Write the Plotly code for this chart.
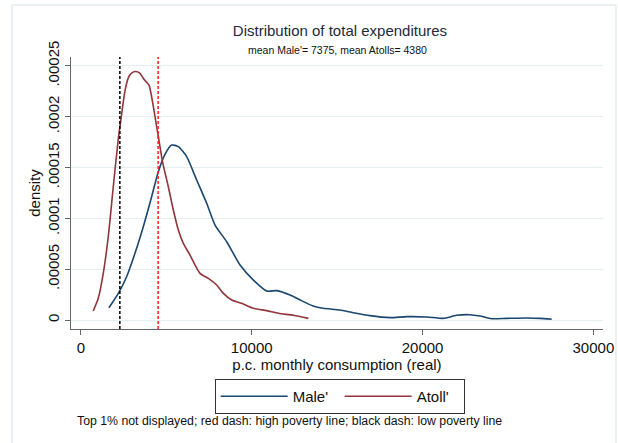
import plotly.graph_objects as go

# ---- data ----
male_x = [1640, 2190, 2676, 3164, 3652, 4141, 4531, 4922, 5312, 5703, 6191, 6777, 7363, 7852,
          8535, 9316, 10098, 10879, 11465, 12246, 12832, 13594, 14180, 15156, 15938, 16914,
          18086, 19063, 20234, 21211, 21992, 22773, 23359, 24043, 24922, 26094, 26875, 27559]
male_y = [1.21, 2.62, 4.26, 6.56, 9.18, 12.13, 14.59, 16.30, 17.21, 17.05, 16.07, 13.77, 11.48,
          9.34, 7.70, 5.41, 3.93, 2.85, 2.89, 2.46, 1.97, 1.38, 1.15, 0.98, 0.72, 0.43, 0.23,
          0.33, 0.30, 0.16, 0.46, 0.52, 0.39, 0.13, 0.16, 0.20, 0.16, 0.07]  # x 1e-5

atoll_x = [723, 1016, 1309, 1602, 1895, 2183, 2378, 2573, 2768, 2963, 3197, 3450, 3645, 3840,
           3996, 4191, 4386, 4580, 4775, 5117, 5410, 5703, 5996, 6387, 6973, 7461, 7949, 8340,
           8828, 9414, 10098, 10879, 11563, 12441, 13320]
atoll_y = [0.89, 2.13, 4.59, 8.20, 13.11, 17.72, 20.18, 22.47, 23.79, 24.28, 24.44, 24.28, 23.79,
           23.40, 23.06, 21.49, 19.52, 17.55, 15.58, 13.11, 10.82, 8.85, 7.54, 6.39, 4.59, 4.10,
           3.44, 2.62, 1.97, 1.64, 1.15, 0.92, 0.66, 0.46, 0.16]  # x 1e-5

series_names = ["Male'", "Atoll'"]
low_poverty_line = 2280
high_poverty_line = 4520

x_tick_vals = [0, 10000, 20000, 30000]
x_tick_text = ["0", "10000", "20000", "30000"]
y_tick_vals = [0, 0.00005, 0.0001, 0.00015, 0.0002, 0.00025]
y_tick_text = ["0", ".00005", ".0001", ".00015", ".0002", ".00025"]

title_text = "Distribution of total expenditures"
subtitle_text = "mean Male'= 7375, mean Atolls= 4380"
note_text = "Top 1% not displayed; red dash: high poverty line; black dash: low poverty line"
x_title = "p.c. monthly consumption (real)"
y_title = "density"

FONT = "Liberation Sans, Arial, sans-serif"
BLUE = "#1a476f"
MAROON = "#90353b"

fig = go.Figure()
fig.add_trace(go.Scatter(x=male_x, y=[v * 1e-5 for v in male_y], mode="lines",
                         name=series_names[0], line=dict(color=BLUE, width=1.6, shape="spline", smoothing=0.6)))
fig.add_trace(go.Scatter(x=atoll_x, y=[v * 1e-5 for v in atoll_y], mode="lines",
                         name=series_names[1], line=dict(color=MAROON, width=1.6, shape="spline", smoothing=0.6)))

fig.add_shape(type="line", xref="x", yref="paper", x0=low_poverty_line, x1=low_poverty_line,
              y0=0, y1=1, line=dict(color="black", width=1.5, dash="3px,2px"))
fig.add_shape(type="line", xref="x", yref="paper", x0=high_poverty_line, x1=high_poverty_line,
              y0=0, y1=1, line=dict(color="#ff2020", width=1.5, dash="3px,2px"))

# faint graph-region frame
fig.add_shape(type="rect", xref="paper", yref="paper", x0=-0.111, x1=1.0244, y0=-0.45, y1=1.191,
              line=dict(color="#e4ecee", width=1.5), fillcolor="rgba(0,0,0,0)", layer="below")

fig.update_layout(
    width=618, height=443,
    margin=dict(l=71, r=15, t=57, b=114, autoexpand=False),
    paper_bgcolor="white", plot_bgcolor="white",
    font=dict(family=FONT, size=15, color="#222"),
    title=dict(text=title_text, x=0.5056, xref="paper", xanchor="center",
               y=1 - 31 / 443, yref="container", yanchor="middle",
               font=dict(size=15, color="#1e2a3a"), automargin=False),
    showlegend=True,
    legend=dict(orientation="h", x=0.505, xanchor="center", y=-0.184, yanchor="top",
                bordercolor="#333", borderwidth=1, font=dict(size=15, color="#111"),
                entrywidth=42, itemwidth=67),
    xaxis=dict(range=[-580, 30563], tickvals=x_tick_vals, ticktext=x_tick_text,
               automargin=False,
               showgrid=False, zeroline=False, showline=True, linecolor="#666", linewidth=1.3,
               ticks="outside", ticklen=5, tickcolor="#666", tickwidth=1,
               tickfont=dict(size=15, color="#111"),
               title=dict(text=x_title, font=dict(size=15, color="#111"), standoff=4)),
    yaxis=dict(range=[-8.85e-6, 2.587e-4], tickvals=y_tick_vals, ticktext=y_tick_text,
               automargin=False,
               tickangle=-90, showgrid=True, gridcolor="#e6eef1", gridwidth=1.2,
               zeroline=False, showline=True, linecolor="#666", linewidth=1.3,
               ticks="outside", ticklen=5, tickcolor="#666", tickwidth=1,
               tickfont=dict(size=15, color="#111"),
               title=dict(text=y_title, font=dict(size=15, color="#111"), standoff=0)),
    annotations=[
        dict(text=subtitle_text, xref="paper", yref="paper", x=0.5, y=(329 - 50) / 272,
             xanchor="center", yanchor="middle", showarrow=False,
             font=dict(size=10.5, color="#111")),
        dict(text=note_text, xref="paper", yref="paper", x=(75 - 71) / 532, y=(329 - 421) / 272,
             xanchor="left", yanchor="middle", showarrow=False,
             font=dict(size=12.3, color="#111")),
    ],
)

fig.write_html("out.html", config={"displayModeBar": False},
               post_script="document.body.style.margin='0';document.body.style.padding='0';")
